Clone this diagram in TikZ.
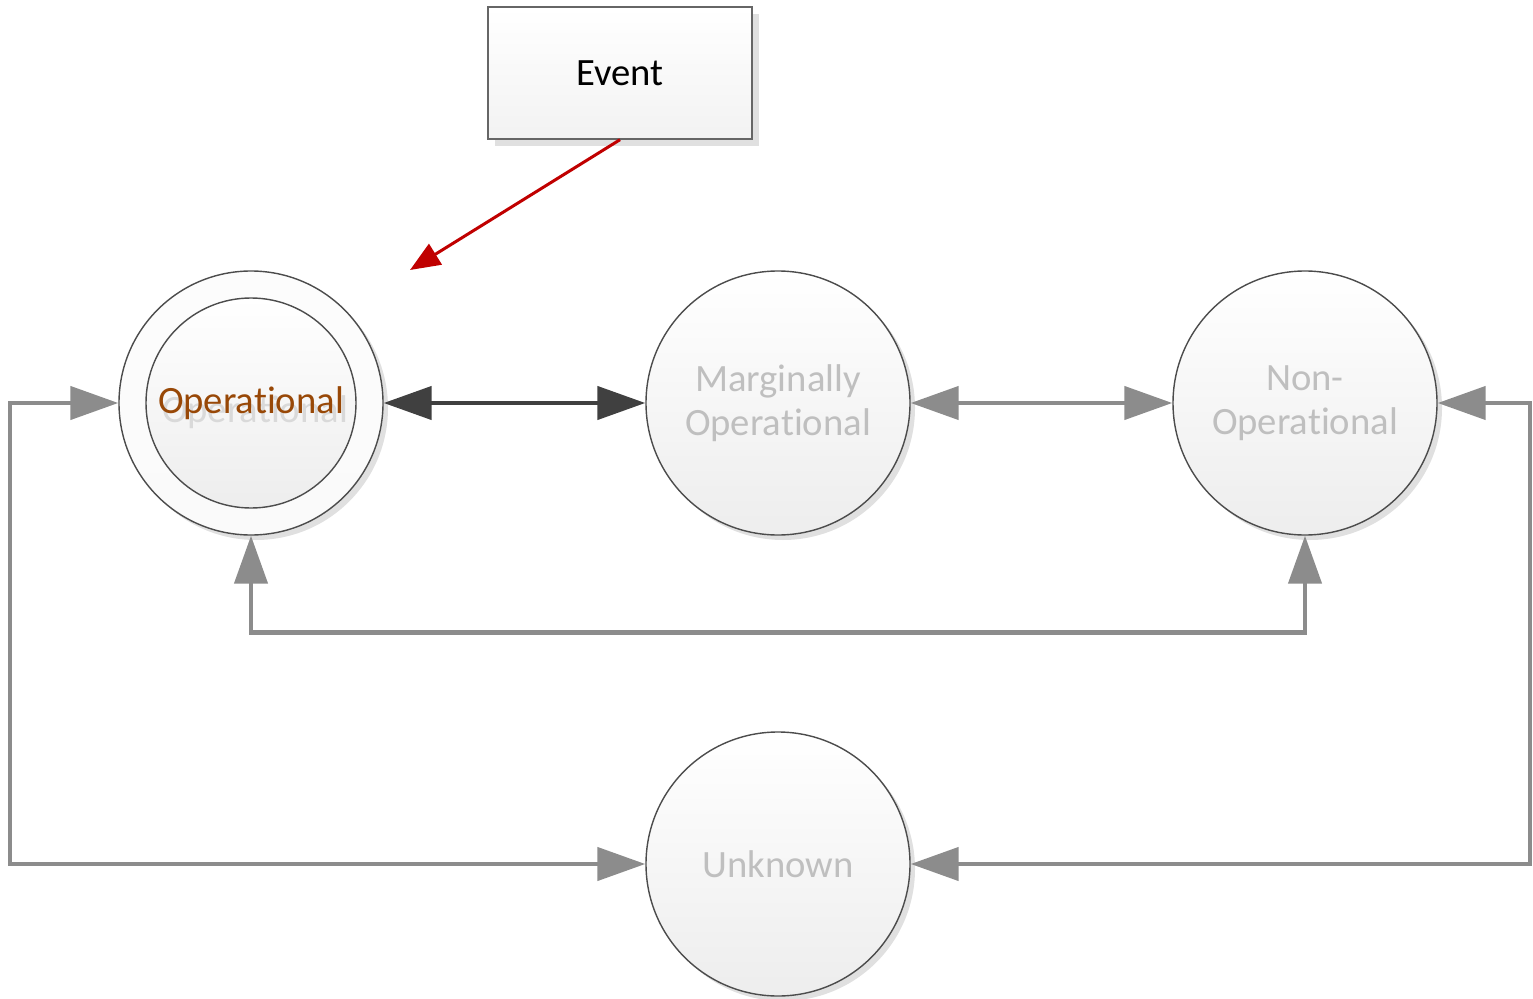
\documentclass[tikz,border=0pt]{standalone}
\usepackage{fontspec}
\setmainfont{Carlito}[RawFeature={-liga;-calt;-clig}]
\usepackage{tikz}
\usetikzlibrary{arrows.meta,positioning,calc,shadows}
\usepackage{xcolor}

\definecolor{opbrown}{HTML}{984807}
\definecolor{ghostgray}{HTML}{BFBFBF}
\definecolor{darklink}{HTML}{404040}
\definecolor{graylink}{HTML}{8C8C8C}
\definecolor{eventred}{HTML}{C00000}

\begin{document}
\begin{tikzpicture}[
ringnode/.style={circle, draw=black!70, thin, minimum size=2.64cm, inner sep=0pt,
  top color=white, bottom color=black!7, align=center,
  font=\fontsize{11}{12.6}\selectfont, text=ghostgray},
statenode/.style={ringnode,
  drop shadow={shadow xshift=0.05cm, shadow yshift=-0.05cm, fill=black!12, opacity=1}},
eventbox/.style={rectangle, draw=black!60, thin, minimum width=2.64cm, minimum height=1.32cm,
  top color=white, bottom color=black!5, font=\fontsize{11}{13}\selectfont,
  drop shadow={shadow xshift=0.07cm, shadow yshift=-0.07cm, fill=black!12, opacity=1}},
biglink/.style={line width=0.045cm, {Triangle[length=0.48cm,width=0.33cm]}-{Triangle[length=0.48cm,width=0.33cm]}},
]
\useasboundingbox (0,0) rectangle (15.33,-9.99);

% states
\node[statenode, top color=black!1, bottom color=black!2] (op) at (2.51,-4.03) {};
\node[ringnode, minimum size=2.10cm] (opin) at (op) {};
\node[text=black!15, font=\fontsize{11}{13}\selectfont] (opghost) at ($(op)+(0.04,-0.09)$) {Operational};
\node[text=opbrown, font=\fontsize{11}{13}\selectfont] (oplabel) at (op) {Operational};
\node[statenode] (marg) at (7.78,-4.03) {Marginally\\Operational};
\node[statenode] (nonop) at (13.05,-4.03) {Non-\\Operational};
\node[statenode] (unk) at (7.78,-8.64) {Unknown};

% event
\node[eventbox] (event) at (6.20,-0.73) {Event};
\coordinate (evtip) at (4.10,-2.70);
\draw[eventred, line width=0.03cm, -{Triangle[length=0.30cm,width=0.24cm]}] (event.south) -- (evtip);

% transitions
\coordinate (lc) at (0.10,0);
\coordinate (rc) at (15.30,0);
\draw[biglink, darklink] (op.east) -- (marg.west);
\draw[biglink, graylink] (marg.east) -- (nonop.west);
\draw[biglink, graylink] (op.south) -- ++(0,-0.97) -| (nonop.south);
\draw[biglink, graylink] (op.west) -- (lc |- op.west) |- (unk.west);
\draw[biglink, graylink] (unk.east) -- (rc |- unk.east) |- (nonop.east);
\end{tikzpicture}
\end{document}
